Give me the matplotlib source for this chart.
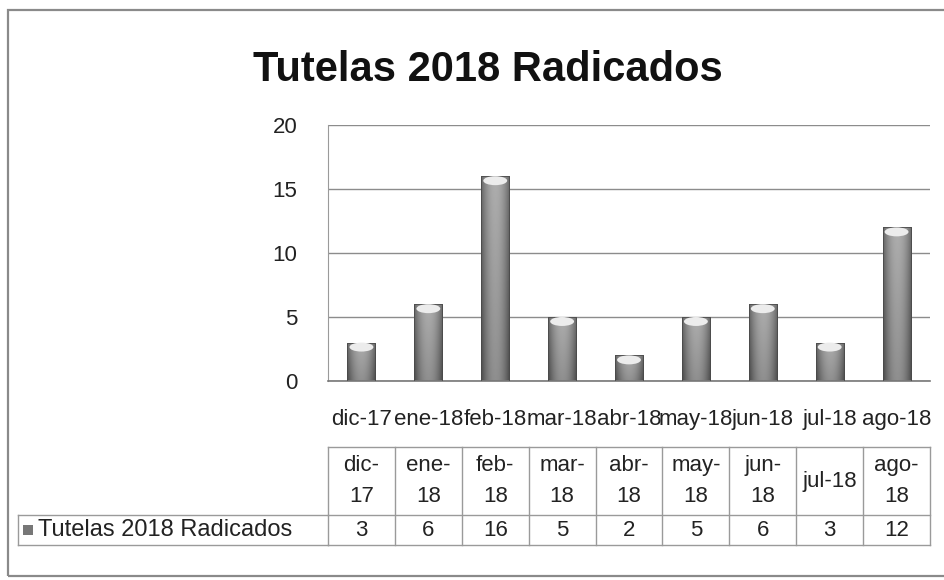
import numpy as np
import matplotlib
matplotlib.use("Agg")
import matplotlib.pyplot as plt
import matplotlib.transforms as mtransforms
from matplotlib.patches import Ellipse, Rectangle

months = ["dic-17", "ene-18", "feb-18", "mar-18", "abr-18",
          "may-18", "jun-18", "jul-18", "ago-18"]
table_heads = ["dic-\n17", "ene-\n18", "feb-\n18", "mar-\n18", "abr-\n18",
               "may-\n18", "jun-\n18", "jul-18", "ago-\n18"]
tutelas = [3, 6, 16, 5, 2, 5, 6, 3, 12]
series_name = "Tutelas 2018 Radicados"
yticks = [0, 5, 10, 15, 20]

plt.rcParams["font.family"] = ["Liberation Sans", "DejaVu Sans"]

W, H = 945, 580
fig = plt.figure(figsize=(W / 100, H / 100), dpi=100)
fig.patch.set_facecolor("white")

# outer chart frame
fig.add_artist(Rectangle((8 / W, 4 / H), 1.2, (H - 14) / H, transform=fig.transFigure,
                         fill=False, edgecolor="#8a8a8a", linewidth=1.6))

fig.text(488 / W, 1 - 70 / H, series_name, ha="center", va="center",
         fontsize=30, fontweight="bold", color="#111111")

ax = fig.add_axes([328 / W, 1 - 381 / H, 602 / W, 256 / H])
ax.set_xlim(-0.5, len(months) - 0.5)
ax.set_ylim(0, 20)
ax.set_yticks(yticks)
ax.set_xticks(range(len(months)))
ax.set_xticklabels(months, fontsize=16, color="#222222")
ax.tick_params(axis="y", labelsize=16, length=0, pad=22, colors="#222222")
ax.tick_params(axis="x", length=0, pad=20)
for s in ["top", "right"]:
    ax.spines[s].set_visible(False)
ax.spines["left"].set_color("#9a9a9a")
ax.spines["bottom"].set_color("#777777")
ax.spines["bottom"].set_linewidth(1.2)
ax.yaxis.grid(True, color="#8c8c8c", linewidth=1.0)
ax.set_axisbelow(True)

# cylinder-like shading: dark edges, lighter centre, lighter towards top
gx = np.linspace(-1, 1, 60)
gy = np.linspace(0, 1, 100)[:, None]
shade = 0.28 + 0.28 * (1 - gx[None, :] ** 2) + 0.12 * gy
bw = 0.42
bars = ax.bar(range(len(months)), tutelas, width=bw, color="none", edgecolor="#4a4a4a",
              linewidth=0.6, zorder=3)
for i, (b, v) in enumerate(zip(bars, tutelas)):
    im = ax.imshow(shade, cmap="gray", vmin=0, vmax=1, aspect="auto", origin="lower",
                   extent=(i - bw / 2, i + bw / 2, 0, v), zorder=2, interpolation="bilinear")
    im.set_clip_path(b)
    ax.add_patch(Ellipse((i, v - 0.35), bw * 0.85, 0.7, facecolor="#ececec",
                         edgecolor="none", zorder=4))
ax.set_xlim(-0.5, len(months) - 0.5)
ax.set_ylim(0, 20)

# data table under the chart
tr = mtransforms.blended_transform_factory(ax.transData, fig.transFigure)
top, mid, bot = 1 - 447 / H, 1 - 515 / H, 1 - 545 / H
lc = "#9a9a9a"
n = len(months)
ax.plot([-0.5, n - 0.5], [top, top], transform=tr, color=lc, lw=1, clip_on=False)
ax.plot([-0.5, n - 0.5], [mid, mid], transform=tr, color=lc, lw=1, clip_on=False)
ax.plot([-0.5, n - 0.5], [bot, bot], transform=tr, color=lc, lw=1, clip_on=False)
for k in range(n + 1):
    ax.plot([k - 0.5, k - 0.5], [top, bot], transform=tr, color=lc, lw=1, clip_on=False)
fig.add_artist(plt.Line2D([18 / W, 328 / W], [mid, mid], color=lc, lw=1))
fig.add_artist(plt.Line2D([18 / W, 328 / W], [bot, bot], color=lc, lw=1))
fig.add_artist(plt.Line2D([18 / W, 18 / W], [mid, bot], color=lc, lw=1))

for i, (h, v) in enumerate(zip(table_heads, tutelas)):
    ax.text(i, (top + mid) / 2, h, transform=tr, ha="center", va="center",
            fontsize=16, color="#222222", linespacing=1.6)
    ax.text(i, (mid + bot) / 2, str(v), transform=tr, ha="center", va="center",
            fontsize=16, color="#222222")
fig.add_artist(Rectangle((23 / W, (mid + bot) / 2 - 5 / H), 10 / W, 10 / H,
                         transform=fig.transFigure, facecolor="#777777", edgecolor="none"))
fig.text(38 / W, (mid + bot) / 2, series_name, ha="left", va="center",
         fontsize=17, color="#222222")

fig.savefig("out.png", dpi=100, facecolor="white")
